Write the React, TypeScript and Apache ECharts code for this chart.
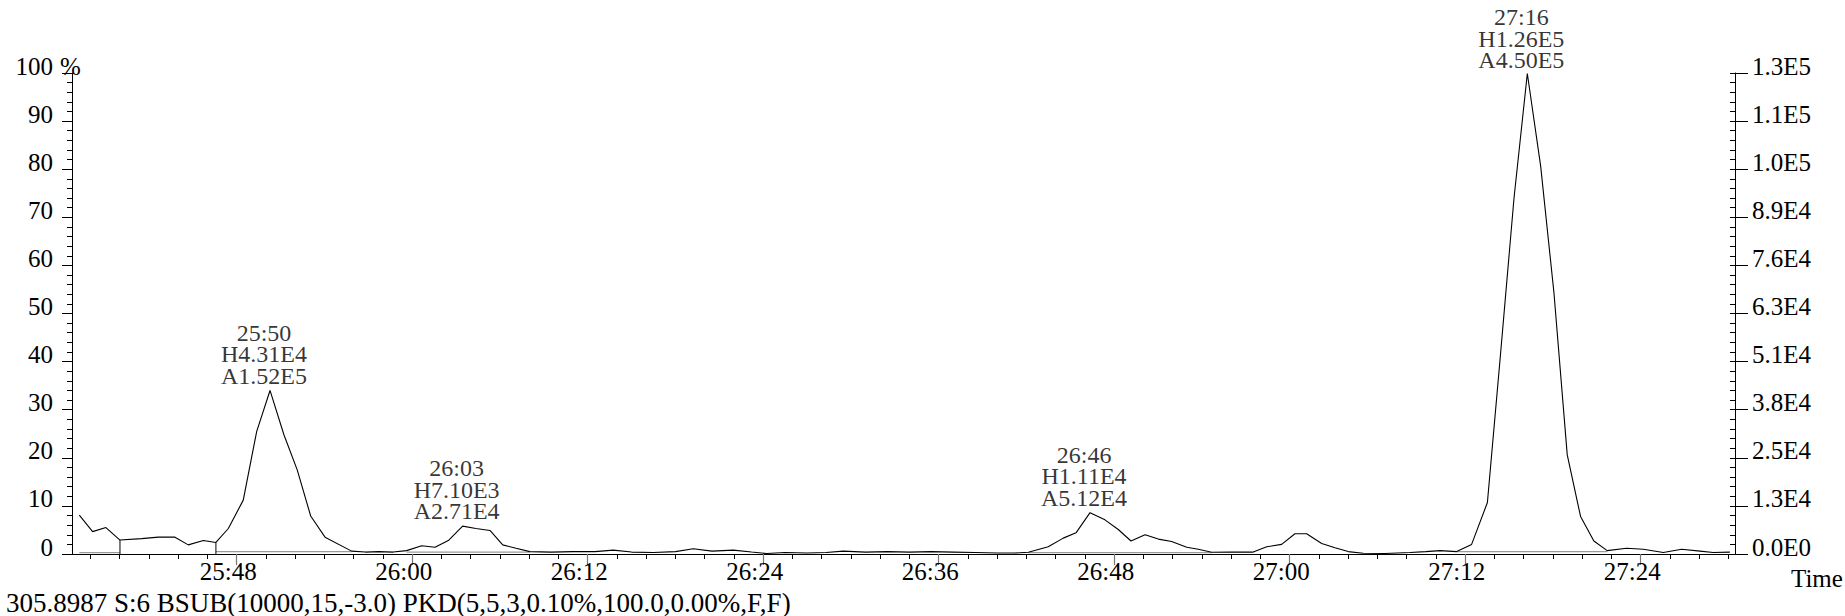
import React, { useEffect, useRef } from "react";
import * as echarts from "echarts";

// Retention time in seconds and relative intensity (%)
const times = [
  1537.24, 1538.15, 1539.06, 1540.02, 1541.5, 1542.64, 1543.78, 1544.69, 1545.72, 1546.58,
  1547.43, 1548.45, 1549.37, 1550.28, 1551.23, 1552.14, 1553.06, 1554.04, 1555.86, 1556.8,
  1557.7, 1558.7, 1559.62, 1560.65, 1561.56, 1562.47, 1563.45, 1564.36, 1565.32, 1566.19,
  1567.1, 1568.05, 1569.5, 1571, 1572.5, 1573.75, 1575, 1576.5, 1578, 1579.22,
  1580.5, 1581.96, 1583.2, 1584.24, 1585.5, 1587, 1588.3, 1589.48, 1591, 1592.5,
  1594, 1595.5, 1597, 1598.5, 1600, 1601.2, 1602.13, 1603.49, 1604.52, 1605.39,
  1606.35, 1607.37, 1608.28, 1609.15, 1610.11, 1611.02, 1611.93, 1612.96, 1613.75, 1614.67,
  1616, 1617.51, 1618.43, 1619.45, 1620.36, 1621.16, 1622.19, 1623.1, 1624.0, 1625.03,
  1626.5, 1628.23, 1629.3, 1630.28, 1631.42, 1632.44, 1633.52, 1634.43, 1635.34, 1636.25,
  1637.16, 1638.07, 1638.98, 1639.89, 1640.8, 1641.71, 1643.04, 1644.18, 1645.55, 1646.8,
  1648.06, 1648.96, 1650.1,
];
const intensity = [
  8.1, 4.65, 5.5, 2.9, 3.2, 3.5, 3.5, 1.9, 2.8, 2.4,
  5.3, 11.2, 25.5, 34.0, 24.8, 17.5, 7.9, 3.5, 0.6, 0.4,
  0.5, 0.4, 0.7, 1.7, 1.4, 2.8, 5.8, 5.3, 4.9, 1.9,
  1.2, 0.5, 0.4, 0.5, 0.5, 0.8, 0.4, 0.3, 0.5, 1.1,
  0.6, 0.8, 0.4, 0.1, 0.3, 0.2, 0.3, 0.6, 0.4, 0.5,
  0.4, 0.5, 0.4, 0.3, 0.2, 0.2, 0.35, 1.5, 3.3, 4.4,
  8.6, 7.1, 5.1, 2.7, 4.0, 3.1, 2.6, 1.4, 1.0, 0.35,
  0.4, 0.4, 1.5, 2.0, 4.2, 4.2, 2.2, 1.3, 0.5, 0.15,
  0.1, 0.3, 0.5, 0.7, 0.5, 2.0, 10.7, 42, 74, 99.9,
  80.7, 54.3, 20.6, 7.8, 2.7, 0.7, 1.2, 1.0, 0.3, 1.0,
  0.6, 0.3, 0.4,
];

// Axis ranges / ticks
const xMin = 1536.74;
const xMax = 1650.45;
const xLabelTimes = [1548, 1560, 1572, 1584, 1596, 1608, 1620, 1632, 1644];
const leftTickLabels = ["0", "10", "20", "30", "40", "50", "60", "70", "80", "90", "100"];
const rightTickLabels = ["0.0E0", "1.3E4", "2.5E4", "3.8E4", "5.1E4", "6.3E4", "7.6E4", "8.9E4", "1.0E5", "1.1E5", "1.3E5"];
const yUnit = "%";

// Peak annotations
const peakApexTimes = [1550.28, 1563.45, 1606.35, 1636.25];
const peakRT = ["25:50", "26:03", "26:46", "27:16"];
const peakHeight = ["H4.31E4", "H7.10E3", "H1.11E4", "H1.26E5"];
const peakArea = ["A1.52E5", "A2.71E4", "A5.12E4", "A4.50E5"];

// Integration baselines and drop lines
const baselineStarts = [1537.24, 1546.58, 1559.62, 1602.13, 1631.42];
const baselineEnds = [1540.02, 1555.86, 1568.05, 1614.67, 1641.71];
const baselineLevels = [0.3, 0.5, 0.4, 0.3, 0.5];
const dropTimes = [1540.02, 1546.58];

const footerText = "305.8987 S:6 BSUB(10000,15,-3.0) PKD(5,5,3,0.10%,100.0,0.00%,F,F)";
const xAxisTitle = "Time";

const FONT = "'Liberation Serif', 'Times New Roman', serif";

function fmtTime(v: number): string {
  const m = Math.floor(v / 60);
  const s = Math.round(v - m * 60);
  return `${m}:${String(s).padStart(2, "0")}`;
}

function valueAt(t: number): number {
  const i = times.indexOf(t);
  return i >= 0 ? intensity[i] : 0;
}

export default function App() {
  const ref = useRef<HTMLDivElement>(null);

  useEffect(() => {
    document.body.style.margin = "0";
    if (!ref.current) return;
    const chart = echarts.init(ref.current, null, { renderer: "svg" });

    const minorTicks: number[] = [];
    for (let t = 1538; t <= 1650; t += 2) minorTicks.push(t);

    const baselineSeries = baselineStarts.map((s, i) => ({
      type: "line",
      data: [
        [s, baselineLevels[i]],
        [baselineEnds[i], baselineLevels[i]],
      ],
      symbol: "none",
      lineStyle: { color: "#9a9a9a", width: 1.3 },
      z: 2,
      silent: true,
    }));

    const dropSeries = dropTimes.map((t) => ({
      type: "line",
      data: [
        [t, 0],
        [t, valueAt(t)],
      ],
      symbol: "none",
      lineStyle: { color: "#000", width: 1 },
      z: 3,
      silent: true,
    }));

    const labelData = peakApexTimes.map((t, i) => ({
      value: [t, valueAt(t)],
      label: {
        show: true,
        position: "top",
        distance: i === 3 ? 1.5 : 3,
        offset: [-6, 0],
        formatter: `${peakRT[i]}\n${peakHeight[i]}\n${peakArea[i]}`,
        fontSize: 24,
        lineHeight: 21.5,
        color: "#000",
        fontFamily: FONT,
        align: "center",
      },
    }));

    const yLabelCommon = {
      fontSize: 25,
      fontFamily: FONT,
      color: "#000",
      verticalAlign: "bottom",
      lineHeight: 14,
    };

    const option: any = {
      animation: false,
      backgroundColor: "#fff",
      grid: { left: 72, right: 110, top: 73, bottom: 62, containLabel: false },
      xAxis: [
        {
          type: "value",
          min: xMin,
          max: xMax,
          position: "bottom",
          axisLine: { show: true, onZero: false, lineStyle: { color: "#000", width: 1.2 } },
          axisTick: { show: true, customValues: minorTicks, length: 5, lineStyle: { color: "#000" } },
          axisLabel: {
            show: true,
            customValues: xLabelTimes,
            formatter: (v: number) => fmtTime(v),
            fontSize: 25,
            fontFamily: FONT,
            color: "#000",
            margin: 5,
            padding: [0, 17, 0, 0],
          },
          splitLine: { show: false },
        },
        {
          type: "value",
          min: xMin,
          max: xMax,
          position: "bottom",
          axisLine: { show: false, onZero: false },
          axisTick: { show: true, customValues: xLabelTimes, length: 11, lineStyle: { color: "#777", width: 1.2 } },
          axisLabel: { show: false },
          splitLine: { show: false },
        },
      ],
      yAxis: [
        {
          type: "value",
          min: 0,
          max: 100,
          interval: 10,
          position: "left",
          axisLine: { show: true, lineStyle: { color: "#000", width: 1 } },
          axisTick: { show: true, length: 10, lineStyle: { color: "#000" } },
          minorTick: { show: true, splitNumber: 5, length: 5, lineStyle: { color: "#000" } },
          axisLabel: {
            ...yLabelCommon,
            formatter: (v: number) => leftTickLabels[Math.round(v / 10)],
            margin: 19,
          },
          splitLine: { show: false },
          minorSplitLine: { show: false },
        },
        {
          type: "value",
          min: 0,
          max: 100,
          interval: 10,
          position: "right",
          axisLine: { show: true, lineStyle: { color: "#000", width: 1 } },
          axisTick: { show: true, length: 13, lineStyle: { color: "#000" } },
          axisLabel: {
            ...yLabelCommon,
            formatter: (v: number) => rightTickLabels[Math.round(v / 10)],
            margin: 17,
          },
          splitLine: { show: false },
        },
        {
          type: "value",
          min: 0,
          max: 100,
          interval: 2,
          position: "right",
          axisLine: { show: false },
          axisTick: { show: true, inside: true, length: 5, lineStyle: { color: "#000" } },
          axisLabel: { show: false },
          splitLine: { show: false },
        },
      ],
      graphic: [
        {
          type: "text",
          left: 6,
          top: 589,
          style: { text: footerText, fontSize: 27, fontFamily: FONT, fill: "#000" },
        },
        {
          type: "text",
          left: 1791,
          top: 566,
          style: { text: xAxisTitle, fontSize: 25, fontFamily: FONT, fill: "#000" },
        },
        {
          type: "text",
          left: 60,
          top: 54,
          style: { text: yUnit, fontSize: 25, fontFamily: FONT, fill: "#000" },
        },
      ],
      series: [
        {
          type: "line",
          data: times.map((t, i) => [t, intensity[i]]),
          symbol: "none",
          lineStyle: { color: "#000", width: 1.1 },
          z: 4,
          silent: true,
        },
        ...baselineSeries,
        ...dropSeries,
        {
          type: "scatter",
          data: labelData,
          symbolSize: 2,
          itemStyle: { color: "rgba(0,0,0,0)" },
          z: 5,
          silent: true,
        },
      ],
    };

    chart.setOption(option);
    return () => chart.dispose();
  }, []);

  return <div ref={ref} style={{ width: 1845, height: 616 }} />;
}
